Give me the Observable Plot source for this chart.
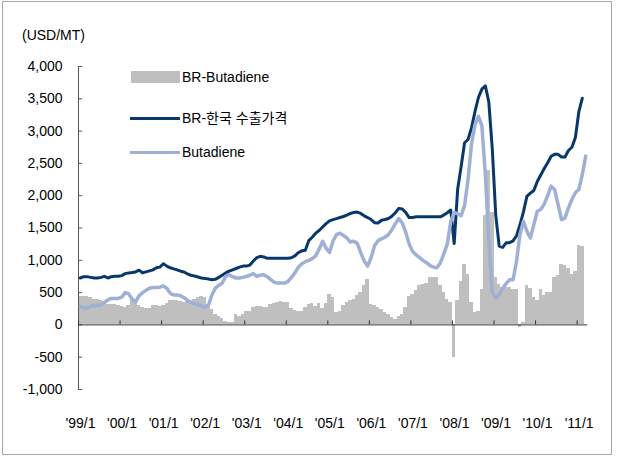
<!DOCTYPE html>
<html><head><meta charset="utf-8">
<script src="https://cdn.jsdelivr.net/npm/d3@7"></script>
<script src="https://cdn.jsdelivr.net/npm/@observablehq/plot@0.6"></script>
<style>
body{margin:0;background:#fff;}
#wrap{position:relative;width:624px;height:460px;font-family:"Liberation Sans",Arial,"Noto Sans CJK KR",sans-serif;color:#000;}
#frame{position:absolute;left:2px;top:1px;width:610px;height:454px;border:1px solid #a6a6a6;box-sizing:border-box;pointer-events:none}
.lbl{position:absolute;font-size:14px;line-height:16px;white-space:nowrap}
.sw{position:absolute}
</style></head>
<body>
<div id="wrap">
  <div id="chart"></div>
  <div id="frame"></div>
  <div class="lbl" id="unit" style="left:22px;top:27px"></div>
  <div id="legend"></div>
</div>
<script>
// ---- data (monthly, 1999/1 onward) ----
const startYear = 1999;
const unitLabel = "(USD/MT)";
const seriesNames = ["BR-Butadiene", "BR-한국 수출가격", "Butadiene"];

const spread = [
 447,447,437,420,396,396,370,355,318,318,318,300,
 290,266,300,420,400,300,266,250,250,300,300,290,
 300,335,370,370,370,355,344,355,370,396,420,437,
 420,318,240,160,137,96,60,30,40,160,137,160,
 200,215,265,290,290,263,263,315,331,347,368,347,
 347,252,226,200,200,263,315,331,279,331,252,331,
 463,420,189,215,293,344,370,396,448,500,603,697,
 319,293,267,241,199,163,111,85,137,163,267,438,
 474,526,603,629,645,733,733,733,603,500,396,344,
 -510,370,665,940,785,344,189,215,551,1691,2390,1743,
 733,629,577,577,577,551,551,-40,40,613,560,430,
 370,551,448,500,500,733,759,940,925,880,780,830,
 1235,1214
];
const brExport = [
 726,747,747,736,726,726,736,752,726,747,752,752,
 763,794,805,810,820,847,805,820,836,852,884,894,
 947,910,884,868,852,831,820,789,768,757,742,726,
 720,710,700,705,736,768,805,831,852,873,894,910,
 910,926,989,1041,1062,1052,1031,1031,1031,1031,1031,1031,
 1031,1040,1068,1120,1147,1157,1304,1357,1420,1462,1515,1567,
 1610,1630,1646,1662,1678,1700,1725,1741,1746,1725,1688,1662,
 1631,1583,1578,1620,1631,1646,1683,1736,1804,1794,1741,1662,
 1662,1673,1673,1673,1673,1673,1673,1673,1673,1700,1736,1778,
 1260,2100,2450,2820,2870,3050,3300,3520,3650,3700,3450,2730,
 1700,1220,1200,1270,1273,1300,1380,1550,1750,1990,2040,2080,
 2220,2320,2420,2510,2610,2640,2640,2600,2600,2700,2750,2900,
 3300,3510
];
const butadiene = [
 279,263,263,289,300,305,305,347,389,410,410,410,
 431,500,479,400,358,452,500,536,568,579,579,584,
 605,568,489,463,463,452,421,379,347,326,316,300,
 274,300,460,568,610,647,752,778,747,726,726,736,
 752,768,794,752,768,778,747,700,663,647,647,647,
 673,736,805,894,947,978,999,1026,1068,1173,1294,1189,
 1120,1294,1399,1420,1383,1347,1283,1294,1262,1120,989,910,
 1041,1226,1304,1331,1357,1399,1473,1567,1646,1578,1436,1252,
 1136,1084,1041,999,963,920,894,884,960,1100,1250,1600,
 1740,1720,1690,1850,2250,2800,3100,3230,3080,2330,1300,500,
 414,470,560,640,699,699,983,1398,1604,1449,1346,1553,
 1760,1786,1870,2000,2148,2096,1863,1630,1657,1812,1941,2045,
 2096,2329,2613
];
const xTickLabels = ["'99/1","'00/1","'01/1","'02/1","'03/1","'04/1","'05/1","'06/1","'07/1","'08/1","'09/1","'10/1","'11/1"];
const yTicks = [4000,3500,3000,2500,2000,1500,1000,500,0,-500,-1000];
const yTickLabels = ["4,000","3,500","3,000","2,500","2,000","1,500","1,000","500","0","-500","-1,000"];

// ---- build tables ----
const nMonths = 147;
const months = d3.range(nMonths).map(i => `${startYear + Math.floor(i / 12)}/${(i % 12) + 1}`);
const spreadData = spread.map((v, i) => ({i, month: months[i], v}));
const brData = brExport.map((v, i) => ({i, month: months[i], v}));
const bdData = butadiene.map((v, i) => ({i, month: months[i], v}));
const xTickPos = xTickLabels.map((_, k) => k * 12);

const colBar = "#bfbfbf", colBR = "#08386a", colBD = "#9eb0d5";
const axisCol = "#555";

const chart = Plot.plot({
  width: 624, height: 460,
  marginLeft: 78, marginRight: 37, marginTop: 66, marginBottom: 71,
  style: {fontFamily: '"Liberation Sans", Arial, sans-serif', fontSize: "14px", color: "#000", background: "transparent"},
  x: {domain: [0, nMonths], axis: null, label: null},
  y: {domain: [-1000, 4000], axis: null, label: null},
  marks: [
    Plot.rectY(spreadData, {x1: d => d.i, x2: d => d.i + 1, y: "v", fill: colBar, shapeRendering: "crispEdges"}),
    Plot.ruleX([0], {y1: -1000, y2: 4000, stroke: axisCol, strokeWidth: 1}),
    Plot.ruleY(yTicks, {x1: 0, x2: 1.2, stroke: axisCol}),
    Plot.ruleY([0], {x1: 0, x2: nMonths, stroke: "#333", strokeWidth: 1}),
    Plot.ruleX(xTickPos, {y1: 0, y2: 62, stroke: "#333"}),
    Plot.lineY(brData, {x: d => d.i + 0.5, y: "v", stroke: colBR, strokeWidth: 3, strokeLinejoin: "round"}),
    Plot.lineY(bdData, {x: d => d.i + 0.5, y: "v", stroke: colBD, strokeWidth: 3.5, strokeLinejoin: "round"}),
    Plot.axisY(yTicks, {anchor: "left", label: null, tickSize: 0, tickPadding: 16, fontSize: 14,
      tickFormat: d => yTickLabels[yTicks.indexOf(d)]}),
    Plot.axisX(xTickPos, {anchor: "bottom", label: null, tickSize: 0, tickPadding: 29, fontSize: 14, dx: 2,
      tickFormat: d => xTickLabels[xTickPos.indexOf(d)]})
  ]
});
document.getElementById("chart").appendChild(chart);
document.getElementById("unit").textContent = unitLabel;

// ---- legend ----
const leg = document.getElementById("legend");
const legendRows = [
  {name: seriesNames[0], type: "bar", color: colBar, cy: 77},
  {name: seriesNames[1], type: "line", color: colBR, cy: 118},
  {name: seriesNames[2], type: "line", color: colBD, cy: 152}
];
legendRows.forEach(r => {
  const sw = document.createElement("div");
  sw.className = "sw";
  if (r.type === "bar") {
    Object.assign(sw.style, {left: "131px", top: (r.cy - 6) + "px", width: "49px", height: "12px", background: r.color});
  } else {
    Object.assign(sw.style, {left: "130px", top: (r.cy - 1.5) + "px", width: "50px", height: "3px", background: r.color});
  }
  leg.appendChild(sw);
  const t = document.createElement("div");
  t.className = "lbl";
  t.textContent = r.name;
  Object.assign(t.style, {left: "182px", top: (r.cy - 8) + "px", fontSize: "14px"});
  leg.appendChild(t);
});
</script>
</body></html>
